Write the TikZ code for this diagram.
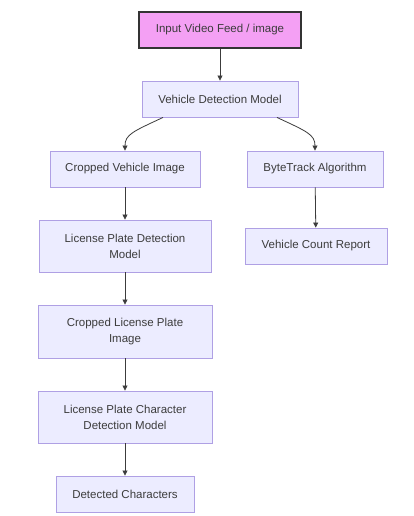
\documentclass[tikz,border=0pt]{standalone}
\usepackage{fontspec}
\setmainfont{Liberation Sans}
\usetikzlibrary{arrows.meta}
\definecolor{boxfill}{RGB}{236,236,255}
\definecolor{boxline}{RGB}{175,160,228}
\definecolor{pinkfill}{RGB}{244,160,244}
\definecolor{txt}{RGB}{60,60,60}
\definecolor{edge}{RGB}{60,60,60}
\tikzset{
  box/.style={draw=boxline, fill=boxfill, line width=0.9pt, text=txt, align=center,
    font=\fontsize{11.5}{16}\selectfont, inner sep=0pt, minimum height=36pt},
  startbox/.style={box, draw=black!80, fill=pinkfill, line width=1.4pt},
  link/.style={draw=edge, line width=0.8pt, -{Triangle[length=5pt,width=5pt]}}
}
\begin{document}
\begin{tikzpicture}[x=1pt,y=-1pt]
\useasboundingbox[fill=white] (0,0) rectangle (414,516);
\node[startbox, minimum width=162pt] (in) at (220,30) {Input Video Feed / image};
\node[box, minimum width=156pt] (vdm) at (220,99) {Vehicle Detection Model};
\node[box, minimum width=150pt] (cvi) at (125,169) {Cropped Vehicle Image};
\node[box, minimum width=136pt] (bt) at (315,169) {ByteTrack Algorithm};
\node[box, minimum width=172pt, minimum height=52pt] (lpd) at (125,246) {License Plate Detection\\Model};
\node[box, minimum width=142pt] (vcr) at (316,246) {Vehicle Count Report};
\node[box, minimum width=174pt, minimum height=53pt] (clp) at (125,331.5) {Cropped License Plate\\Image};
\node[box, minimum width=174pt, minimum height=52pt] (lpc) at (125,417) {License Plate Character\\Detection Model};
\node[box, minimum width=138pt] (dc) at (125,494) {Detected Characters};
\draw[link] (in) -- (vdm);
\draw[link] ([xshift=-57pt]vdm.south) .. controls +(-30,14) and +(0,-16) .. (cvi.north);
\draw[link] ([xshift=57pt]vdm.south) .. controls +(30,14) and +(0,-16) .. (bt.north);
\draw[link] (cvi) -- (lpd);
\draw[link] (bt) -- (vcr);
\draw[link] (lpd) -- (clp);
\draw[link] (clp) -- (lpc);
\draw[link] (lpc) -- (dc);
\end{tikzpicture}
\end{document}
